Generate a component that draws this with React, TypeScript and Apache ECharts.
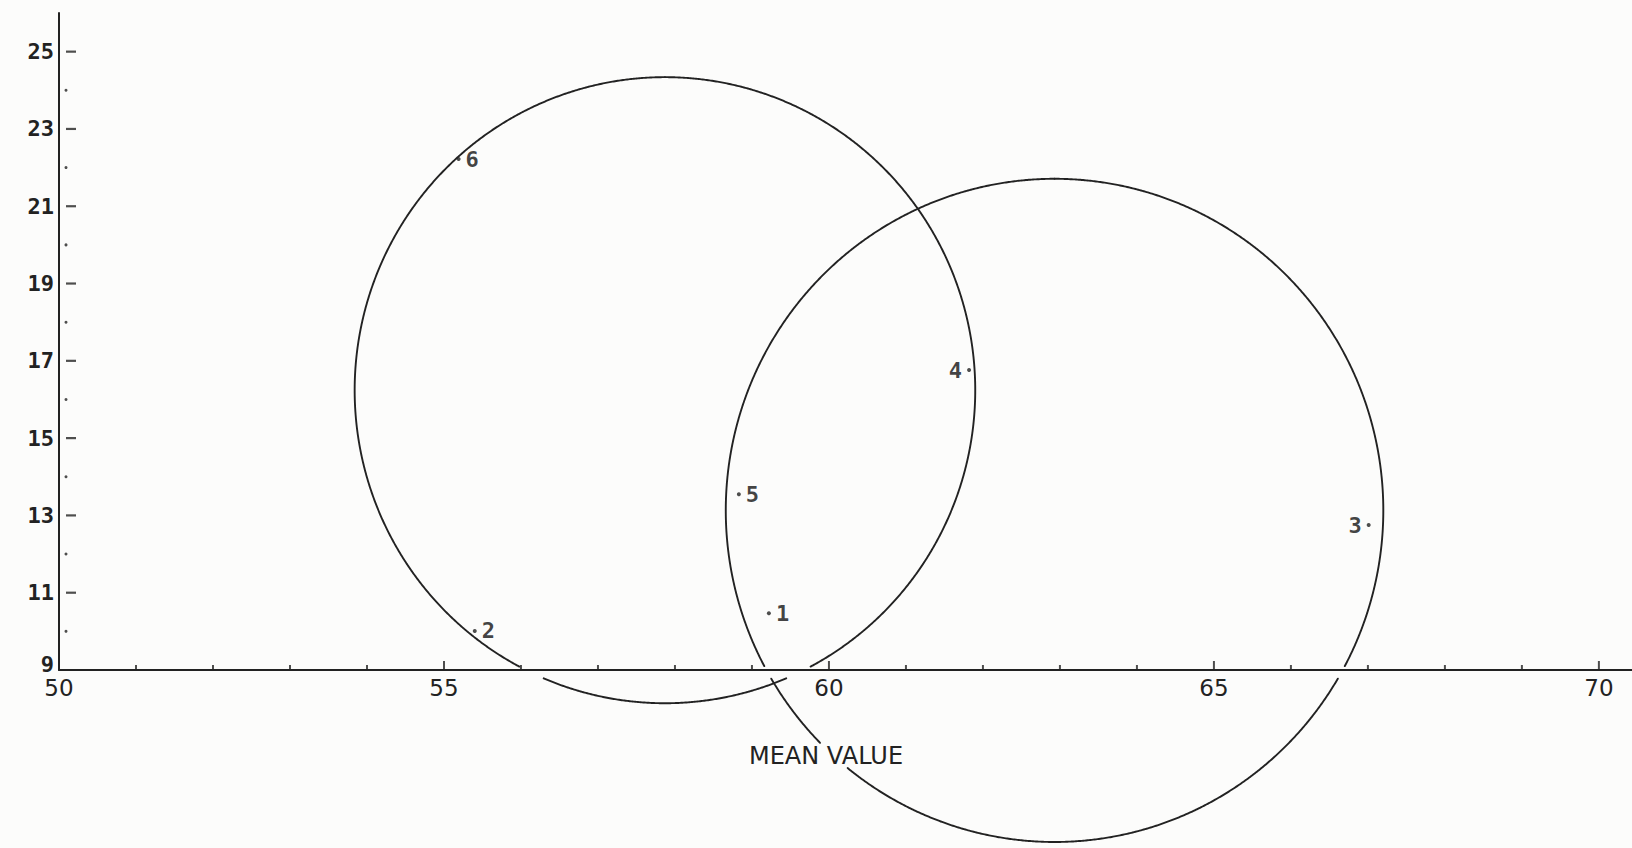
import React, { useEffect, useRef } from "react";
import * as echarts from "echarts";

// Axis ranges and tick values
const xMin = 50;
const xMax = 70.43;
const yMin = 9;
const yMax = 26;
const xLabelValues = [50, 55, 60, 65, 70];
const yLabelValues = [9, 11, 13, 15, 17, 19, 21, 23, 25];
const xMajorTicks = [55, 60, 65, 70];
const xMinorTicks = [51, 52, 53, 54, 56, 57, 58, 59, 61, 62, 63, 64, 66, 67, 68, 69];
const yMajorTicks = [11, 13, 15, 17, 19, 21, 23, 25];
const yMinorTicks = [10, 12, 14, 16, 18, 20, 22, 24];

// Numbered observations
const pointIds = ["1", "2", "3", "4", "5", "6"];
const meanValues = [59.22, 55.4, 67.01, 61.82, 58.83, 55.19];
const yValues = [10.47, 10.01, 12.75, 16.76, 13.55, 22.22];
const labelSides = ["right", "right", "left", "left", "right", "right"];

// Cluster boundaries: centre and half-extent along each axis
const circleCenterX = [57.87, 62.93];
const circleCenterY = [16.24, 13.13];
const circleRadiusX = [4.03, 4.27];
const circleRadiusY = [8.1, 8.58];

const axisTitle = "MEAN VALUE";

const INK = "#222222";
const TITLE_X = 826;
const TITLE_Y = 756;
const TITLE_W = 168;
const TITLE_H = 24;

export default function App() {
  const ref = useRef<HTMLDivElement>(null);

  useEffect(() => {
    if (!ref.current) return;
    const chart = echarts.init(ref.current, undefined, { renderer: "svg" });

    // Boundary drawn as a pen stroke that lifts where it crosses the axis or the axis title
    const renderCircle = (params: any, api: any) => {
      const c = api.coord([api.value(0), api.value(1)]);
      const s = api.size([api.value(2), api.value(3)]);
      const axisY = api.coord([xMin, yMin])[1];
      const inGap = (x: number, y: number) => {
        if (y > axisY - 3 && y < axisY + 8) return true;
        if (
          x > TITLE_X - TITLE_W / 2 &&
          x < TITLE_X + TITLE_W / 2 &&
          y > TITLE_Y - TITLE_H / 2 - 1 &&
          y < TITLE_Y + TITLE_H / 2
        )
          return true;
        return false;
      };
      const segments: number[][][] = [];
      let cur: number[][] = [];
      const n = 1440;
      for (let i = 0; i <= n; i++) {
        const t = -Math.PI / 2 + (i / n) * Math.PI * 2;
        const x = c[0] + s[0] * Math.cos(t);
        const y = c[1] + s[1] * Math.sin(t);
        if (inGap(x, y)) {
          if (cur.length > 1) segments.push(cur);
          cur = [];
        } else {
          cur.push([x, y]);
        }
      }
      if (cur.length > 1) segments.push(cur);
      return {
        type: "group",
        children: segments.map((pts) => ({
          type: "polyline",
          shape: { points: pts },
          style: { stroke: INK, lineWidth: 1.9, fill: null, lineCap: "round" },
        })),
      };
    };

    const tickSeries = (
      data: number[][],
      symbol: string,
      size: number | number[],
      offset: number[]
    ) => ({
      type: "scatter",
      data,
      symbol,
      symbolSize: size,
      symbolOffset: offset,
      itemStyle: { color: INK },
      silent: true,
      clip: false,
      z: 3,
    });

    chart.setOption({
      animation: false,
      backgroundColor: "#fcfcfb",
      grid: { left: 59, right: 0, top: 13, bottom: 178, containLabel: false, outerBoundsMode: "none" },
      xAxis: {
        type: "value",
        min: xMin,
        max: xMax,
        interval: 1,
        axisLine: { show: true, onZero: false, lineStyle: { color: INK, width: 2 } },
        axisTick: { show: false },
        splitLine: { show: false },
        axisLabel: {
          margin: 6,
          fontFamily: "DejaVu Sans",
          fontSize: 23,
          color: INK,
          formatter: (v: number) => (xLabelValues.includes(v) ? String(v) : ""),
        },
      },
      yAxis: {
        type: "value",
        min: yMin,
        max: yMax,
        interval: 1,
        axisLine: { show: true, onZero: false, lineStyle: { color: INK, width: 2 } },
        axisTick: { show: false },
        splitLine: { show: false },
        axisLabel: {
          margin: 5,
          fontFamily: "DejaVu Sans Mono",
          fontWeight: "bold",
          fontSize: 22,
          color: INK,
          formatter: (v: number) =>
            v === yMin ? "{low|" + v + "}" : yLabelValues.includes(v) ? String(v) : "",
          rich: {
            low: {
              fontFamily: "DejaVu Sans Mono",
              fontWeight: "bold",
              fontSize: 22,
              color: INK,
              padding: [0, 0, 12, 0],
            },
          },
        },
      },
      graphic: [
        {
          type: "text",
          x: TITLE_X,
          y: TITLE_Y,
          style: {
            text: axisTitle,
            fontFamily: "DejaVu Sans",
            fontSize: 24,
            fill: INK,
            textAlign: "center",
            textVerticalAlign: "middle",
          },
        },
      ],
      series: [
        {
          type: "custom",
          renderItem: renderCircle,
          data: circleCenterX.map((cx, i) => [cx, circleCenterY[i], circleRadiusX[i], circleRadiusY[i]]),
          clip: false,
          silent: true,
          z: 2,
        },
        tickSeries(xMajorTicks.map((v) => [v, yMin]), "rect", [2, 8], [0, -5]),
        tickSeries(xMinorTicks.map((v) => [v, yMin]), "rect", [2, 4], [0, -3]),
        tickSeries(yMajorTicks.map((v) => [xMin, v]), "rect", [10, 2.2], [12, 0]),
        tickSeries(yMinorTicks.map((v) => [xMin, v]), "circle", 3, [7, 0]),
        {
          type: "scatter",
          data: meanValues.map((x, i) => ({
            value: [x, yValues[i]],
            label: { position: labelSides[i] },
          })),
          symbol: "circle",
          symbolSize: 4,
          itemStyle: { color: INK },
          clip: false,
          z: 4,
          label: {
            show: true,
            distance: 5,
            formatter: (p: any) => pointIds[p.dataIndex],
            fontFamily: "DejaVu Sans Mono",
            fontWeight: "bold",
            fontSize: 22,
            color: "#111111",
          },
        },
      ],
    });

    return () => chart.dispose();
  }, []);

  return (
    <div
      ref={ref}
      style={{ position: "absolute", left: 0, top: 0, width: 1632, height: 848 }}
    />
  );
}
